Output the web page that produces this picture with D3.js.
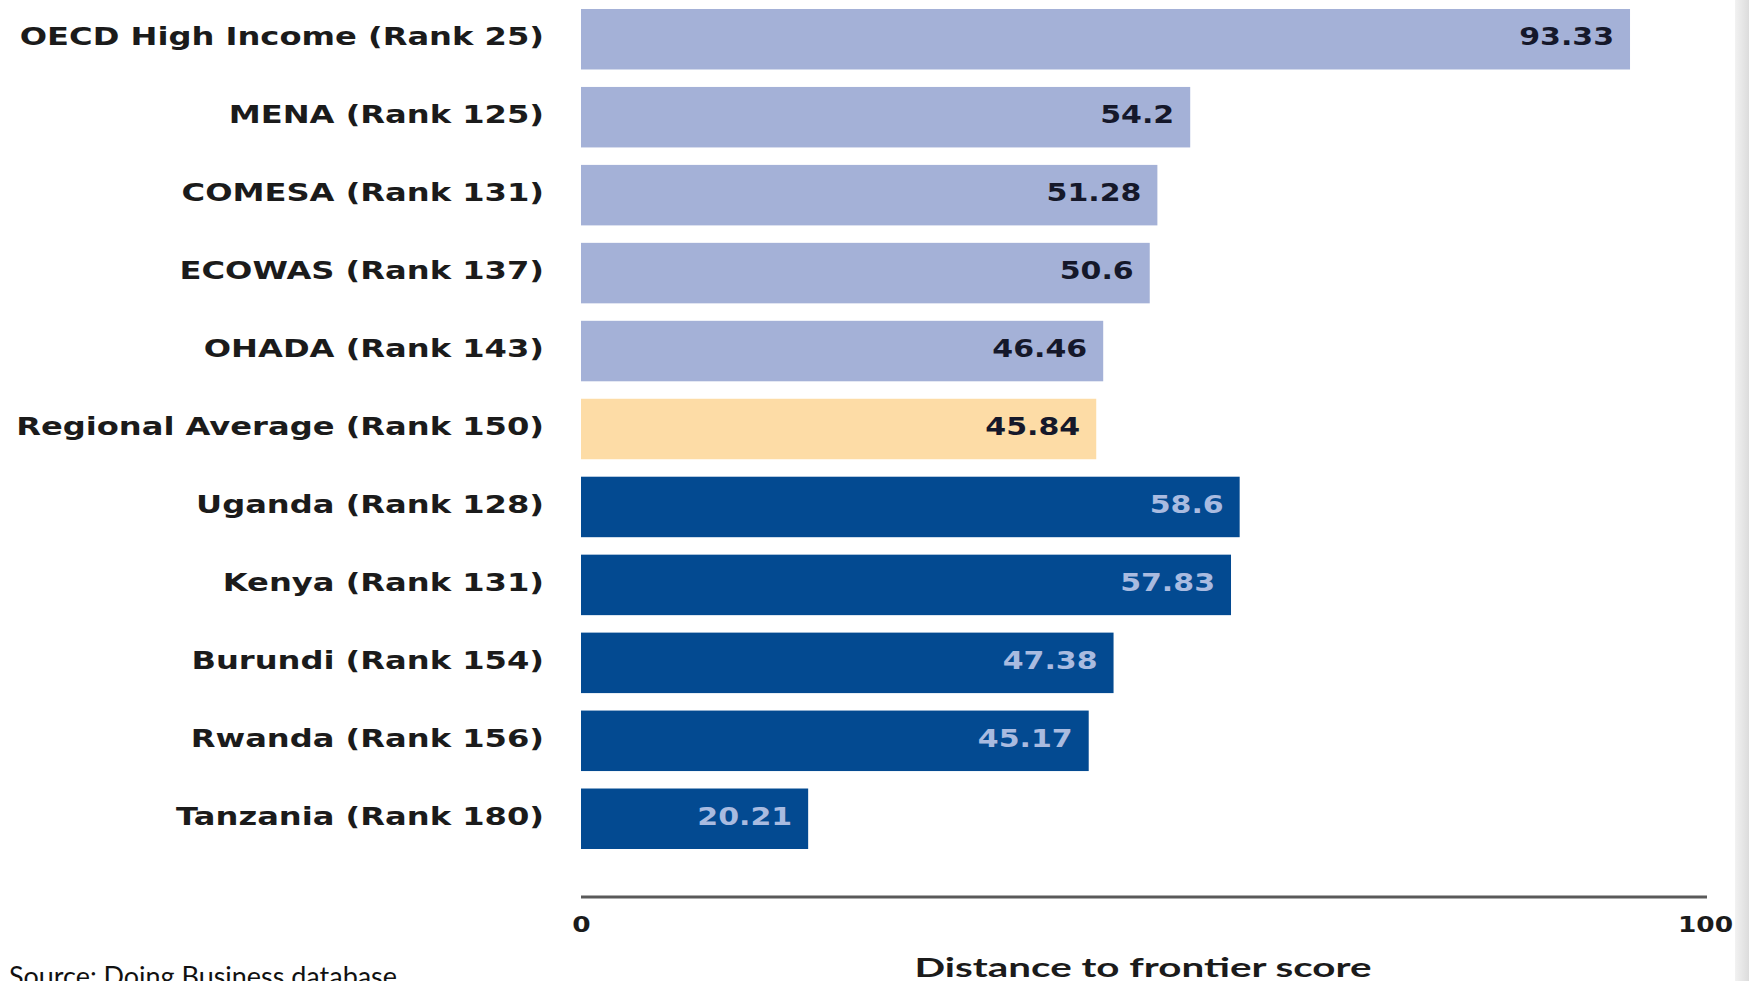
<!DOCTYPE html>
<html>
<head>
<meta charset="utf-8">
<script src="https://cdn.jsdelivr.net/npm/d3@7/dist/d3.min.js"></script>
<style>
  html, body { margin: 0; padding: 0; background: #fff; overflow: hidden; }
  svg { display: block; }
</style>
</head>
<body>
<svg width="1749" height="981"></svg>
<script>
// data
var categories = ['OECD High Income (Rank 25)', 'MENA (Rank 125)', 'COMESA (Rank 131)',
    'ECOWAS (Rank 137)', 'OHADA (Rank 143)', 'Regional Average (Rank 150)',
    'Uganda (Rank 128)', 'Kenya (Rank 131)', 'Burundi (Rank 154)',
    'Rwanda (Rank 156)', 'Tanzania (Rank 180)'];
var scores = [93.33, 54.2, 51.28, 50.6, 46.46, 45.84, 58.6, 57.83, 47.38, 45.17, 20.21];
var valueLabels = ['93.33', '54.2', '51.28', '50.6', '46.46', '45.84', '58.6', '57.83', '47.38', '45.17', '20.21'];
var groups = ['bloc', 'bloc', 'bloc', 'bloc', 'bloc', 'average',
    'country', 'country', 'country', 'country', 'country'];
var axisTicks = [0, 100];
var axisTitle = 'Distance to frontier score';
var sourceNote = 'Source: Doing Business database';

var fill = { bloc: '#a4b1d7', average: '#fddca6', country: '#034a91' };
var labelFill = { bloc: '#15182a', average: '#15182a', country: '#a9bbe0' };
var stretch = 1.34;

var svg = d3.select('svg');

var x = d3.scaleLinear()
    .domain([0, 100])
    .range([581, 1705]);

var y = d3.scaleBand()
    .domain(categories)
    .range([9, 849])
    .paddingInner(0.224)
    .paddingOuter(0);

// grey strip at the right edge of the slide
var grad = svg.append('defs').append('linearGradient')
    .attr('id', 'edge')
    .attr('x1', '0').attr('x2', '1').attr('y1', '0').attr('y2', '0');
grad.append('stop').attr('offset', '0').attr('stop-color', '#f2f2f2');
grad.append('stop').attr('offset', '1').attr('stop-color', '#dcdcdc');
svg.append('rect')
    .attr('x', 1735).attr('y', 0)
    .attr('width', 14).attr('height', 981)
    .attr('fill', 'url(#edge)');

var rows = categories.map(function (c, i) {
    return { name: c, value: scores[i], label: valueLabels[i], group: groups[i] };
});

svg.selectAll('.bar')
    .data(rows)
    .enter().append('rect')
    .attr('class', 'bar')
    .attr('x', x(0))
    .attr('y', function (d) { return y(d.name); })
    .attr('width', function (d) { return x(d.value) - x(0); })
    .attr('height', y.bandwidth())
    .attr('fill', function (d) { return fill[d.group]; });

svg.selectAll('.val')
    .data(rows)
    .enter().append('text')
    .attr('class', 'val')
    .attr('transform', function (d) {
        return 'translate(' + (x(d.value) - 16) + ',' + (y(d.name) + y.bandwidth() / 2 + 6) + ') scale(1.25,1)';
    })
    .attr('text-anchor', 'end')
    .style('font-family', '"DejaVu Sans", Verdana, sans-serif')
    .style('font-weight', 'bold')
    .style('font-size', '24px')
    .attr('fill', function (d) { return labelFill[d.group]; })
    .text(function (d) { return d.label; });

// category labels
var yAxis = d3.axisLeft(y).tickSize(0).tickPadding(0);
var gy = svg.append('g')
    .attr('transform', 'translate(' + x(0) + ',0)')
    .call(yAxis);
gy.select('.domain').remove();
gy.selectAll('text')
    .attr('x', 0)
    .attr('dy', null)
    .attr('transform', 'translate(-37,6) scale(' + stretch + ',1)')
    .style('font-family', '"DejaVu Sans", Verdana, sans-serif')
    .style('font-weight', 'bold')
    .style('font-size', '24px')
    .attr('fill', '#1b1b1b');

// x axis
var xAxis = d3.axisBottom(x)
    .tickValues(axisTicks)
    .tickFormat(d3.format('d'))
    .tickSize(0)
    .tickSizeOuter(0)
    .tickPadding(0);
var gx = svg.append('g')
    .attr('transform', 'translate(0,897)')
    .call(xAxis);
gx.select('.domain')
    .attr('d', 'M' + x(0) + ',0H' + (x(100) + 2))
    .attr('stroke', '#5a5a5a')
    .attr('stroke-width', 3);
gx.selectAll('text')
    .attr('y', 0)
    .attr('dy', null)
    .attr('transform', 'translate(0,35) scale(1.2,1)')
    .style('font-family', '"DejaVu Sans", Verdana, sans-serif')
    .style('font-weight', 'bold')
    .style('font-size', '22px')
    .attr('fill', '#1b1b1b');

svg.append('text')
    .attr('x', 1143)
    .attr('y', 977)
    .attr('text-anchor', 'middle')
    .attr('textLength', 457)
    .attr('lengthAdjust', 'spacingAndGlyphs')
    .style('font-family', 'Lato, "Open Sans", sans-serif')
    .style('font-weight', 'bold')
    .style('font-size', '26px')
    .attr('fill', '#1b1b1b')
    .text(axisTitle);

svg.append('text')
    .attr('x', 9)
    .attr('y', 986)
    .attr('textLength', 388)
    .attr('lengthAdjust', 'spacingAndGlyphs')
    .style('font-family', 'Lato, "Open Sans", sans-serif')
    .style('font-size', '27px')
    .attr('fill', '#111')
    .text(sourceNote);
</script>
</body>
</html>
